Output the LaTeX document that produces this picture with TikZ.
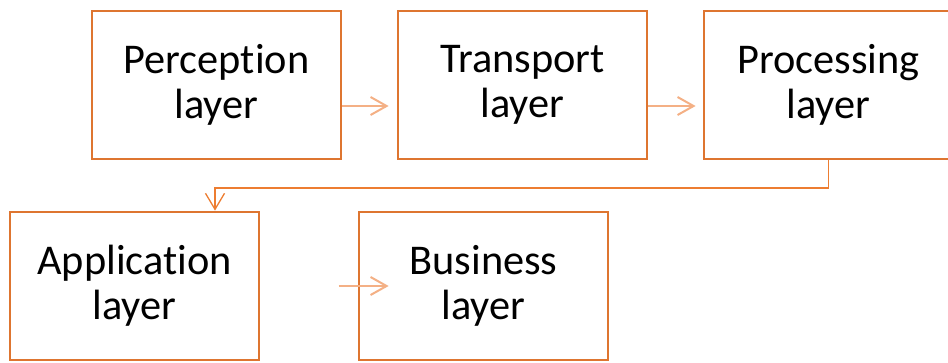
\documentclass[tikz,border=0pt]{standalone}
\usepackage{fontspec}
\setmainfont{Carlito}[Ligatures={NoCommon,NoContextual,NoRequired}]
\usetikzlibrary{arrows.meta,calc}
\definecolor{boxor}{HTML}{DE7530}
\definecolor{lightor}{HTML}{F4B085}
\definecolor{connor}{HTML}{ED7D31}
\tikzset{
  layerbox/.style={draw=boxor, line width=2.8bp, fill=white, minimum width=249bp, minimum height=148bp,
    inner sep=0pt, align=center, font=\fontsize{42.5}{45}\selectfont, text=black},
  flowarr/.style={draw=lightor, line width=2bp, -{Straight Barb[length=16bp,width=18bp,line width=2bp]}},
  connarr/.style={draw=connor, line width=1.3bp, -{Straight Barb[length=16bp,width=19bp,line width=1.3bp]}}
}
\begin{document}
\begin{tikzpicture}[x=1bp,y=-1bp]
\useasboundingbox (0,0) rectangle (948,362);
\clip (0,0) rectangle (948,362);
\node[layerbox] (perc) at (216.5,85) {Perception\\layer};
\node[layerbox] (trans) at (522.5,85) {Transport\\layer};
\node[layerbox] (proc) at (828.5,85) {Processing\\layer};
\node[layerbox] (app) at (134.5,286) {Application\\layer};
\node[layerbox] (bus) at (483.5,286) {Business\\layer};
\draw[flowarr] ($(perc.east)+(0,21)$) -- ($(trans.west)+(-8,21)$);
\draw[flowarr] ($(trans.east)+(0,21)$) -- ($(proc.west)+(-7,21)$);
\coordinate (k) at (215,188);
\draw[connarr] (proc.south) |- (k) -- (k |- app.north);
\draw[flowarr] ($(bus.west)+(-19,0)$) -- ($(bus.west)+(31,0)$);
\end{tikzpicture}
\end{document}
